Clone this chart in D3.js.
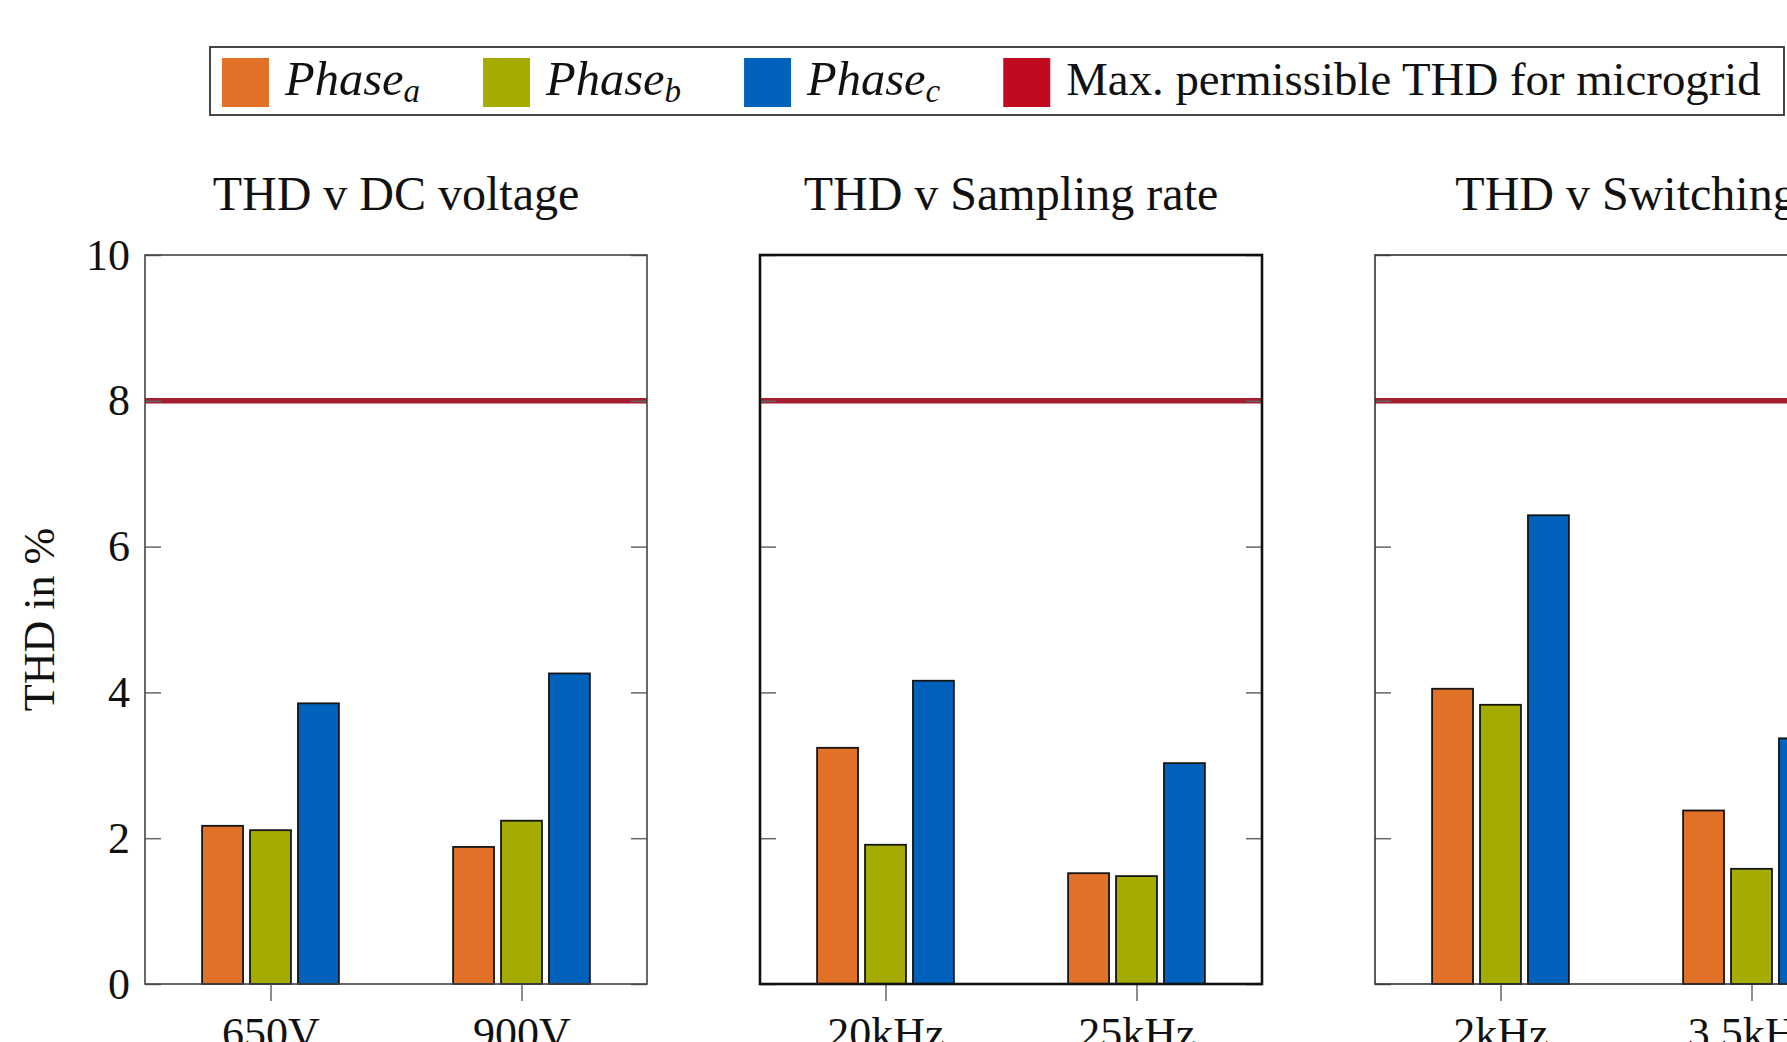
<!DOCTYPE html>
<html>
<head>
<meta charset="utf-8">
<script src="https://cdn.jsdelivr.net/npm/d3@7"></script>
<style>
  html, body { margin: 0; padding: 0; background: #fff; overflow: hidden; }
  svg { display: block; font-family: "Liberation Serif", "DejaVu Serif", serif; }
</style>
</head>
<body>
<script>
// ---------------- data ----------------
const phases = ["Phase_a", "Phase_b", "Phase_c"];
const legendLimitLabel = "Max. permissible THD for microgrid";
const yTicks = [0, 2, 4, 6, 8, 10];
const yLabel = "THD in %";
const maxTHD = 8;

const dcTitle = "THD v DC voltage";
const dcCategories = ["650V", "900V"];
const dcPhaseA = [2.17, 1.88];
const dcPhaseB = [2.11, 2.24];
const dcPhaseC = [3.85, 4.26];

const fsTitle = "THD v Sampling rate";
const fsCategories = ["20kHz", "25kHz"];
const fsPhaseA = [3.24, 1.52];
const fsPhaseB = [1.91, 1.48];
const fsPhaseC = [4.16, 3.03];

const swTitle = "THD v Switching";
const swCategories = ["2kHz", "3.5kHz"];
const swPhaseA = [4.05, 2.38];
const swPhaseB = [3.83, 1.58];
const swPhaseC = [6.43, 3.37];

// ---------------- styles / layout ----------------
const W = 1787, H = 1042;
const colors = { Phase_a: "#E07126", Phase_b: "#A5AC00", Phase_c: "#0062BA" };
const limitColor = "#A51D30";
const limitSwatch = "#C00A20";
const panelW = 502, panelStep = 615, panelLeft0 = 145;
const plotTop = 255, plotBottom = 984;
const frameStyles = [
  { stroke: "#444", width: 1.6 },
  { stroke: "#111", width: 2.6 },
  { stroke: "#333", width: 1.6 }
];

const panels = [
  { title: dcTitle, cats: dcCategories, series: [dcPhaseA, dcPhaseB, dcPhaseC] },
  { title: fsTitle, cats: fsCategories, series: [fsPhaseA, fsPhaseB, fsPhaseC] },
  { title: swTitle, cats: swCategories, series: [swPhaseA, swPhaseB, swPhaseC] }
];

const svg = d3.select("body").append("svg")
  .attr("width", W).attr("height", H);

const y = d3.scaleLinear().domain([0, 10]).range([plotBottom, plotTop]);
const inner = d3.scaleBand().domain(phases).range([-68.4, 68.4])
  .paddingInner(0.146).paddingOuter(0);

panels.forEach((p, i) => {
  const left = panelLeft0 + i * panelStep;
  const g = svg.append("g").attr("transform", `translate(${left},0)`);
  const x = d3.scalePoint().domain(p.cats).range([0, panelW]).padding(0.5);

  // title
  g.append("text")
    .attr("x", panelW / 2).attr("y", 210)
    .attr("text-anchor", "middle")
    .attr("font-size", 48).attr("fill", "#111")
    .text(p.title);

  // bars
  p.cats.forEach((c, ci) => {
    phases.forEach((ph, pi) => {
      const v = p.series[pi][ci];
      g.append("rect")
        .attr("x", x(c) + inner(ph))
        .attr("width", inner.bandwidth())
        .attr("y", y(v))
        .attr("height", y(0) - y(v))
        .attr("fill", colors[ph])
        .attr("stroke", "#151515")
        .attr("stroke-width", 1.8);
    });
  });

  // limit line
  g.append("line")
    .attr("x1", 0).attr("x2", panelW)
    .attr("y1", y(maxTHD)).attr("y2", y(maxTHD))
    .attr("stroke", limitColor).attr("stroke-width", 5.5);

  // left axis (inside ticks)
  const la = g.append("g").call(
    d3.axisLeft(y).tickValues(yTicks).tickSize(-16).tickPadding(15)
      .tickFormat(i === 0 ? d3.format("d") : () => "")
  );
  // right axis (inside ticks)
  const ra = g.append("g").attr("transform", `translate(${panelW},0)`).call(
    d3.axisRight(y).tickValues(yTicks).tickSize(-16).tickFormat(() => "")
  );
  // bottom axis (outside ticks)
  const ba = g.append("g").attr("transform", `translate(0,${plotBottom})`).call(
    d3.axisBottom(x).tickSize(17).tickPadding(16)
  );
  [la, ra, ba].forEach(a => {
    a.select(".domain").remove();
    a.selectAll(".tick line").attr("stroke", "#666").attr("stroke-width", 1.5);
    a.selectAll(".tick text")
      .attr("font-family", "Liberation Serif, DejaVu Serif, serif")
      .attr("font-size", 44).attr("fill", "#111");
  });
  // frame
  g.append("rect")
    .attr("x", 0).attr("y", plotTop)
    .attr("width", panelW).attr("height", plotBottom - plotTop)
    .attr("fill", "none")
    .attr("stroke", frameStyles[i].stroke)
    .attr("stroke-width", frameStyles[i].width);
});

// y axis label
svg.append("text")
  .attr("transform", `translate(54,${(plotTop + plotBottom) / 2}) rotate(-90)`)
  .attr("text-anchor", "middle")
  .attr("font-size", 44).attr("fill", "#111")
  .text(yLabel);

// legend
const legend = svg.append("g");
const legBox = legend.append("rect")
  .attr("x", 210).attr("y", 47).attr("height", 68)
  .attr("fill", "#fff").attr("stroke", "#333").attr("stroke-width", 1.8);
let lx = 222;
const swatchW = 47, swatchH = 49, swatchY = 58, textGap = 16, itemGap = 63, baseY = 95;
const legendItems = phases.map(ph => ({ key: ph, color: colors[ph] }))
  .concat([{ key: "limit", color: limitSwatch }]);
legendItems.forEach((it, k) => {
  legend.append("rect")
    .attr("x", lx).attr("y", swatchY)
    .attr("width", swatchW).attr("height", swatchH)
    .attr("fill", it.color);
  const t = legend.append("text")
    .attr("x", lx + swatchW + textGap).attr("y", baseY)
    .attr("font-size", 48.5).attr("fill", "#111");
  if (it.key === "limit") {
    t.attr("font-size", 46.8).text(legendLimitLabel);
  } else {
    const [base, sub] = it.key.split("_");
    t.append("tspan").attr("font-style", "italic").text(base);
    t.append("tspan").attr("font-style", "italic").attr("font-size", 33)
      .attr("dy", 7).text(sub);
  }
  const tw = t.node().getComputedTextLength();
  lx = lx + swatchW + textGap + tw + itemGap;
  if (k === legendItems.length - 1) {
    legBox.attr("width", Math.min((lx - itemGap + 24) - 210, W - 213));
  }
});
</script>
</body>
</html>
